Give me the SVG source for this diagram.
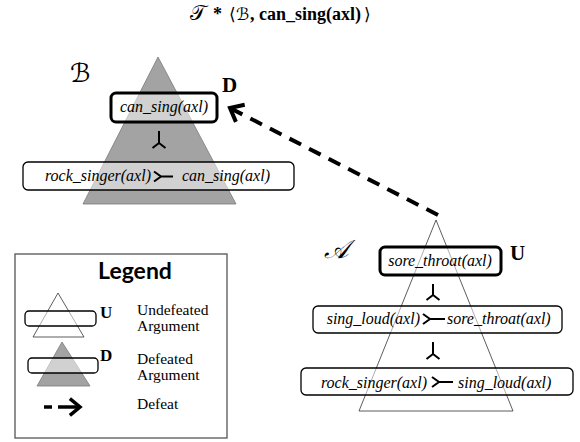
<svg xmlns="http://www.w3.org/2000/svg" width="580" height="442" viewBox="0 0 580 442">
<style>
.bg{fill:#ffffff}
.tri-d{fill:#a3a3a3;stroke:#7a7a7a;stroke-width:0.8}
.tri-u{fill:#ffffff;stroke:#333333;stroke-width:0.8}
.box{fill:#ffffff;fill-opacity:0.5;stroke:#000000;stroke-width:1.3}
.box-top{fill:#ffffff;fill-opacity:0.5;stroke:#000000;stroke-width:3}
.lit{font-family:"Liberation Serif","Times New Roman",serif;font-style:italic;font-size:16px;fill:#000}
.sym{fill:none;stroke:#000;stroke-width:2;stroke-linecap:butt}
.mark{font-family:"Liberation Serif","Times New Roman",serif;font-weight:bold;font-size:21px;fill:#000}
.script{font-family:"DejaVu Serif","DejaVu Sans",serif;font-style:italic;font-size:26px;fill:#000}
.title{font-family:"Liberation Serif","Times New Roman",serif;font-weight:bold;font-size:18px;fill:#000}
.title-sym{font-family:"DejaVu Serif","DejaVu Sans",serif;font-size:17px;fill:#000}
.leg-text{font-family:"Liberation Serif","Times New Roman",serif;font-size:15.5px;fill:#000}
.leg-title{font-family:Lato,"Open Sans",sans-serif;font-weight:bold;font-size:23px;fill:#000}
.leg-mark{font-family:"Liberation Serif","Times New Roman",serif;font-weight:bold;font-size:17px;fill:#000}
.defeat{fill:none;stroke:#000;stroke-width:4}
</style>
<defs>
<marker id="chev" viewBox="-5 -4 6 8" markerWidth="6" markerHeight="8" refX="0" refY="0" orient="auto" markerUnits="strokeWidth" overflow="visible">
<path d="M-2.9,-2.4 L0,0 L-2.9,2.4" fill="none" stroke="#000" stroke-width="1" stroke-linejoin="miter"/>
</marker>
</defs>
<rect class="bg" x="0" y="0" width="580" height="442"/>

<g id="title">
<text class="title-sym" x="190" y="20" style="font-size:21px">𝒯</text>
<text class="title" x="213" y="20">*</text>
<text class="title-sym" x="229" y="20" style="font-family:'Liberation Serif',serif">⟨</text>
<text class="title-sym" x="236" y="20" style="font-style:italic">ℬ</text>
<text class="title" x="250" y="20">,</text>
<text class="title" x="259" y="20">can_sing(axl)</text>
<text class="title-sym" x="364" y="20" style="font-family:'Liberation Serif',serif">⟩</text>
</g>

<g id="argB">
<polygon class="tri-d" points="158,57 236,204 83,204"/>
<text class="script" x="70" y="82">ℬ</text>
<text class="mark" x="222" y="92">D</text>
<g id="B-concl">
<rect class="box-top" x="111" y="93" width="106" height="29" rx="5"/>
<text class="lit" x="164" y="112" text-anchor="middle">can_sing(axl)</text>
</g>
<path class="sym" d="M159,131 V143 L152.5,148 M159,143 L165.5,148"/>
<g id="B-rule">
<rect class="box" x="23" y="162" width="271" height="28" rx="5"/>
<text class="lit" x="151" y="181" text-anchor="end">rock_singer(axl)</text>
<path class="sym" d="M154,171.5 L161,176.5 L154,181.5 M161,176.5 H173"/>
<text class="lit" x="182" y="181">can_sing(axl)</text>
</g>
</g>

<g id="argA">
<polygon class="tri-u" points="436,220 513,411 359,411"/>
<text class="script" x="324" y="258">𝒜</text>
<text class="mark" x="510" y="260">U</text>
<g id="A-concl">
<rect class="box-top" x="380" y="247" width="121" height="28" rx="5"/>
<text class="lit" x="440" y="266" text-anchor="middle">sore_throat(axl)</text>
</g>
<path class="sym" d="M433,284 V295 L426.5,300 M433,295 L439.5,300"/>
<g id="A-rule1">
<rect class="box" x="313" y="306" width="249" height="27" rx="5"/>
<text class="lit" x="420" y="324" text-anchor="end">sing_loud(axl)</text>
<path class="sym" d="M423,314 L430,319 L423,324 M430,319 H445"/>
<text class="lit" x="447" y="324">sore_throat(axl)</text>
</g>
<path class="sym" d="M433,342 V354 L426.5,359 M433,354 L439.5,359"/>
<g id="A-rule2">
<rect class="box" x="301" y="368" width="272" height="27" rx="5"/>
<text class="lit" x="427" y="388" text-anchor="end">rock_singer(axl)</text>
<path class="sym" d="M432,377 L439,382 L432,387 M439,382 H453"/>
<text class="lit" x="458" y="388">sing_loud(axl)</text>
</g>
</g>

<g id="connectors">
<line class="defeat" x1="438" y1="215" x2="230" y2="108" stroke-dasharray="13 9" marker-end="url(#chev)"/>
</g>

<g id="legend">
<rect x="15" y="254" width="212" height="184" fill="#fff" stroke="#555" stroke-width="1.3"/>
<text class="leg-title" x="135" y="279" text-anchor="middle">Legend</text>
<polygon class="tri-u" points="58,293 84,337 33,337"/>
<rect class="box" x="25" y="311" width="71" height="15" rx="4"/>
<text class="leg-mark" x="100" y="318">U</text>
<text class="leg-text" x="137" y="315">Undefeated</text>
<text class="leg-text" x="137" y="331">Argument</text>
<polygon class="tri-d" points="62,342 90,386 37,386"/>
<rect class="box" x="28" y="358" width="70" height="15" rx="4"/>
<text class="leg-mark" x="100" y="361">D</text>
<text class="leg-text" x="137" y="364">Defeated</text>
<text class="leg-text" x="137" y="380">Argument</text>
<line x1="44" y1="407" x2="52" y2="407" stroke="#000" stroke-width="3.5"/>
<line x1="58" y1="407" x2="80" y2="407" stroke="#000" stroke-width="3.5" marker-end="url(#chev)"/>
<text class="leg-text" x="137" y="409">Defeat</text>
</g>
</svg>
